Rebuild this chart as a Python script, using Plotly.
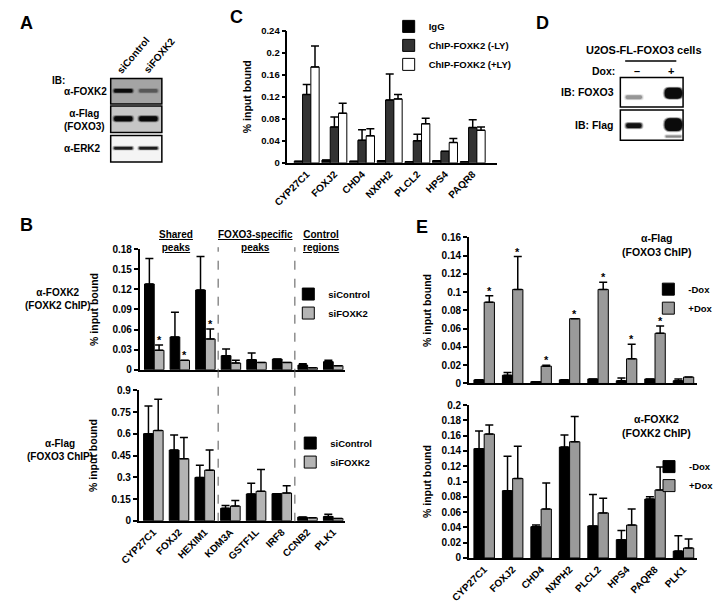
import plotly.graph_objects as go

W, H = 719, 614
def fx(p): return p / W
def fy(p): return 1 - p / H

FAM = "Liberation Sans, Arial, sans-serif"
def F(size, color="black"):
    return dict(family=FAM, size=size, color=color, weight="bold")

# ---------------- data ----------------
# Panel C
c_genes = ["CYP27C1", "FOXJ2", "CHD4", "NXPH2", "PLCL2", "HPS4", "PAQR8"]
c_igg = [0.003, 0.005, 0.003, 0.004, 0.002, 0.004, 0.002]
c_igg_err = [0, 0, 0, 0, 0, 0, 0]
c_neg = [0.124, 0.065, 0.041, 0.114, 0.040, 0.021, 0.064]
c_neg_err = [0.018, 0.018, 0.019, 0.047, 0.012, 0.0, 0.014]
c_pos = [0.174, 0.090, 0.049, 0.116, 0.071, 0.037, 0.059]
c_pos_err = [0.038, 0.018, 0.013, 0.008, 0.010, 0.007, 0.006]

# Panel B
b_genes = ["CYP27C1", "FOXJ2", "HEXIM1", "KDM3A", "GSTF1L", "IRF8", "CCNB2", "PLK1"]
bt_ctrl = [0.128, 0.049, 0.119, 0.021, 0.015, 0.016, 0.007, 0.012]
bt_ctrl_err = [0.038, 0.037, 0.050, 0.010, 0.010, 0.0, 0.002, 0.002]
bt_si = [0.029, 0.014, 0.046, 0.010, 0.011, 0.011, 0.003, 0.006]
bt_si_err = [0.008, 0.0, 0.015, 0.004, 0.0, 0.0, 0.0, 0.0]
bt_star = [1, 1, 1, 0, 0, 0, 0, 0]
bb_ctrl = [0.601, 0.488, 0.299, 0.086, 0.185, 0.187, 0.025, 0.029]
bb_ctrl_err = [0.191, 0.104, 0.084, 0.020, 0.074, 0.0, 0.0, 0.016]
bb_si = [0.623, 0.428, 0.349, 0.101, 0.203, 0.191, 0.020, 0.016]
bb_si_err = [0.216, 0.146, 0.139, 0.039, 0.150, 0.050, 0.0, 0.0]

# Panel E
e_genes = ["CYP27C1", "FOXJ2", "CHD4", "NXPH2", "PLCL2", "HPS4", "PAQR8", "PLK1"]
et_minus = [0.004, 0.009, 0.002, 0.004, 0.005, 0.003, 0.005, 0.003]
et_minus_err = [0.0, 0.003, 0.0, 0.0, 0.0, 0.003, 0.0, 0.002]
et_plus = [0.089, 0.103, 0.019, 0.071, 0.103, 0.027, 0.055, 0.007]
et_plus_err = [0.007, 0.036, 0.001, 0.0, 0.008, 0.016, 0.008, 0.0]
et_star = [1, 1, 1, 1, 1, 1, 1, 0]
eb_minus = [0.143, 0.088, 0.041, 0.145, 0.042, 0.024, 0.077, 0.009]
eb_minus_err = [0.023, 0.045, 0.002, 0.016, 0.041, 0.012, 0.003, 0.020]
eb_plus = [0.162, 0.104, 0.064, 0.152, 0.059, 0.043, 0.089, 0.013]
eb_plus_err = [0.012, 0.042, 0.034, 0.033, 0.019, 0.021, 0.030, 0.012]

# Blots (band intensities, lanes left->right)
a_rows = ["α-FOXK2", "α-Flag<br>(FOXO3)", "α-ERK2"]
a_lanes = ["siControl", "siFOXK2"]
a_band = [[0.95, 0.35], [1.0, 1.0], [0.85, 0.85]]
d_rows = ["IB: FOXO3", "IB: Flag"]
d_lanes = ["–", "+"]
d_band = [[0.3, 1.0], [0.95, 1.0]]

# ---------------- figure ----------------
fig = go.Figure()

def add_bar(x, y, err, w, off, color, name, xa, ya, leg, lw=1):
    n = len(y)
    fig.add_trace(go.Bar(
        x=x, y=y, width=w, offset=off, name=name,
        marker=dict(color=color, line=dict(color="black", width=lw)),
        error_y=dict(type="data", symmetric=False, array=err, arrayminus=[0] * n,
                     color="black", thickness=1.5, width=4),
        xaxis=xa, yaxis=ya, legend=leg, hoverinfo="skip"))

# C
wc = 0.3
xc = list(range(len(c_genes)))
add_bar(xc, c_igg, c_igg_err, wc, -1.5 * wc, "black", "IgG", "x", "y", "legend")
add_bar(xc, c_neg, c_neg_err, wc, -0.5 * wc, "#333333", "ChIP-FOXK2 (-LY)", "x", "y", "legend")
add_bar(xc, c_pos, c_pos_err, wc, 0.5 * wc, "white", "ChIP-FOXK2 (+LY)", "x", "y", "legend")

# B
wb = 0.38
xb = list(range(len(b_genes)))
GB = "#b4b4b4"
add_bar(xb, bt_ctrl, bt_ctrl_err, wb, -wb, "black", "siControl", "x2", "y2", "legend2")
add_bar(xb, bt_si, bt_si_err, wb, 0, GB, "siFOXK2", "x2", "y2", "legend2")
add_bar(xb, bb_ctrl, bb_ctrl_err, wb, -wb, "black", "siControl", "x3", "y3", "legend3")
add_bar(xb, bb_si, bb_si_err, wb, 0, GB, "siFOXK2", "x3", "y3", "legend3")

# E
we = 0.36
xe = list(range(len(e_genes)))
GE = "#9a9a9a"
add_bar(xe, et_minus, et_minus_err, we, -we, "black", "-Dox", "x4", "y4", "legend4")
add_bar(xe, et_plus, et_plus_err, we, 0, GE, "+Dox", "x4", "y4", "legend4")
add_bar(xe, eb_minus, eb_minus_err, we, -we, "black", "-Dox", "x5", "y5", "legend5")
add_bar(xe, eb_plus, eb_plus_err, we, 0, GE, "+Dox", "x5", "y5", "legend5")

def yaxis(top, bot, rng, dtick, anchor, standoff, tsize=9.5):
    return dict(domain=[fy(bot), fy(top)], range=rng, dtick=dtick, anchor=anchor,
                showline=True, linecolor="black", linewidth=1.5,
                ticks="outside", ticklen=4, tickwidth=1.5, tickcolor="black",
                showgrid=False, zeroline=False, tickfont=F(tsize),
                title=dict(text="% input bound", font=F(10.5), standoff=standoff),
                fixedrange=True)

def xaxis(left, right, rng, genes, anchor, labels=True):
    return dict(domain=[fx(left), fx(right)], range=rng, anchor=anchor,
                showline=True, linecolor="black", linewidth=1.5,
                ticks="", showgrid=False, zeroline=False,
                tickvals=list(range(len(genes))), ticktext=genes,
                showticklabels=labels, tickangle=-45, tickfont=F(10),
                fixedrange=True)

lay = dict(
    width=W, height=H, margin=dict(l=0, r=0, t=0, b=0),
    paper_bgcolor="white", plot_bgcolor="white",
    font=F(10), showlegend=True,
    xaxis=xaxis(278, 495, [-0.7, 6.87], c_genes, "y"),
    yaxis=yaxis(25, 160, [0, 0.24], 0.04, "x", 8),
    xaxis2=xaxis(125, 338, [-0.57, 7.47], b_genes, "y2", labels=False),
    yaxis2=yaxis(248, 371, [0, 0.18], 0.03, "x2", 12, 10),
    xaxis3=xaxis(124, 338, [-0.57, 7.47], b_genes, "y3"),
    yaxis3=yaxis(392, 525, [0, 0.9], 0.15, "x3", 12, 10),
    xaxis4=xaxis(466, 702, [-0.54, 7.46], e_genes, "y4", labels=False),
    yaxis4=yaxis(236, 385, [0, 0.16], 0.02, "x4", 8, 10),
    xaxis5=xaxis(466, 702, [-0.54, 7.46], e_genes, "y5"),
    yaxis5=yaxis(407, 563, [0, 0.2], 0.02, "x5", 8, 10),
)

def legend(left, top):
    return dict(x=fx(left), y=fy(top), xanchor="left", yanchor="top",
                bgcolor="rgba(0,0,0,0)", font=F(9.5), itemwidth=30,
                tracegroupgap=0, itemclick=False, itemdoubleclick=False)

lay["legend"] = legend(383, 6)
lay["legend2"] = legend(279, 279)
lay["legend3"] = legend(281, 431)
lay["legend4"] = legend(652, 274)
lay["legend5"] = legend(653, 455)
fig.update_layout(**lay)

ann = []
def text(x, y, t, size=10, xanchor="center", yanchor="middle", angle=0):
    ann.append(dict(x=fx(x), y=fy(y), xref="paper", yref="paper", text=t,
                    showarrow=False, font=F(size), xanchor=xanchor,
                    yanchor=yanchor, textangle=angle, align="center"))

# panel letters
text(8, 17, "A", 18)
text(225, 11, "C", 18)
text(542, 17, "D", 18)
text(8, 223, "B", 18)
text(417, 225, "E", 18)

# row labels
text(40, 299, "α-FOXK2<br>(FOXK2 ChIP)", 10)
text(42, 453, "α-Flag<br>(FOXO3 ChIP)", 10)
text(660, 244, "α-Flag<br>(FOXO3 ChIP)", 10.5)
text(660, 428, "α-FOXK2<br>(FOXK2 ChIP)", 10.5)

# B headers
text(163, 240, "<u>Shared</u><br><u>peaks</u>", 10)
text(245, 240, "<u>FOXO3-specific</u><br><u>peaks</u>", 10)
text(313, 240, "<u>Control</u><br><u>regions</u>", 10)

# stars
def stars(vals, errs, flags, w, xa, ya):
    for i, (v, e, s) in enumerate(zip(vals, errs, flags)):
        if s:
            ann.append(dict(x=i + w / 2, y=v + e, xref=xa, yref=ya, text="*",
                            showarrow=False, font=F(11), xanchor="center",
                            yanchor="bottom", yshift=-3))
stars(bt_si, bt_si_err, bt_star, wb, "x2", "y2")
stars(et_plus, et_plus_err, et_star, we, "x4", "y4")

shapes = []

def rrect(x0, y0, x1, y1, r):
    r = min(r, (x1 - x0) / 2, (y1 - y0) / 2)
    P = lambda x, y: f"{fx(x):.5f},{fy(y):.5f}"
    return (f"M{P(x0 + r, y0)} L{P(x1 - r, y0)} Q{P(x1, y0)} {P(x1, y0 + r)} "
            f"L{P(x1, y1 - r)} Q{P(x1, y1)} {P(x1 - r, y1)} L{P(x0 + r, y1)} "
            f"Q{P(x0, y1)} {P(x0, y1 - r)} L{P(x0, y0 + r)} Q{P(x0, y0)} {P(x0 + r, y0)} Z")

def band(cx, cy, bw, bh, inten):
    for grow, op in [(2.0, 0.22), (1.0, 0.45), (0.0, 0.9)]:
        x0, x1 = cx - bw / 2 - grow, cx + bw / 2 + grow
        y0, y1 = cy - bh / 2 - grow * 0.6, cy + bh / 2 + grow * 0.6
        shapes.append(dict(type="path", xref="paper", yref="paper",
                           path=rrect(x0, y0, x1, y1, (y1 - y0) / 2.2),
                           fillcolor="black", opacity=op * inten,
                           line=dict(width=0), layer="above"))

# Panel A blot
a_box_y = [(74, 100), (102, 129), (132, 159)]
a_box_bg = ["#a4a4a4", "#c6c6c6", "#f4f4f4"]
a_lane_x = [108, 134]
a_band_h = [3.5, 5, 2.5]
a_row_label_y = [87, 116, 145]
for r, (y0, y1) in enumerate(a_box_y):
    shapes.append(dict(type="rect", xref="paper", yref="paper",
                       x0=fx(95), x1=fx(148), y0=fy(y1), y1=fy(y0),
                       fillcolor=a_box_bg[r], line=dict(color="black", width=1.5),
                       layer="above"))
    for l, cx in enumerate(a_lane_x):
        band(cx, (y0 + y1) / 2 - 0.5, 19, a_band_h[r], a_band[r][l])
    text(45, a_row_label_y[r], a_rows[r], 10, xanchor="left")
text(32, 76, "IB:", 10, xanchor="left")
text(118, 50, a_lanes[0], 10, angle=-50)
text(145, 50, a_lanes[1], 10, angle=-50)

# Panel D blot
d_box_y = [(73, 103), (106, 137)]
d_lane_x = [637, 678]
d_band_w = [[17, 18], [16, 18]]
d_band_h = [[4, 11], [5, 13]]
d_band_cy = [[93, 89], [122, 121]]
for r, (y0, y1) in enumerate(d_box_y):
    shapes.append(dict(type="rect", xref="paper", yref="paper",
                       x0=fx(623), x1=fx(688), y0=fy(y1), y1=fy(y0),
                       fillcolor="white", line=dict(color="black", width=1.5),
                       layer="below"))
    for l, cx in enumerate(d_lane_x):
        band(cx, d_band_cy[r][l], d_band_w[r][l], d_band_h[r][l], d_band[r][l])
    text(618, (y0 + y1) / 2, d_rows[r], 10.5, xanchor="right")
band(678, 133, 16, 2, 0.35)
text(648, 45, "U2OS-FL-FOXO3 cells", 11)
shapes.append(dict(type="line", xref="paper", yref="paper", x0=fx(628), x1=fx(681),
                   y0=fy(56), y1=fy(56), line=dict(color="black", width=1.5)))
text(620, 66, "Dox:", 10.5, xanchor="right")
text(640, 66, d_lanes[0], 11)
text(676, 66, d_lanes[1], 11)

# dashed separators in B
for xv in [2.5, 5.5]:
    shapes.append(dict(type="line", xref="x2", yref="paper", x0=xv, x1=xv,
                       y0=fy(526), y1=fy(246),
                       line=dict(color="#555555", width=1, dash="dash")))

fig.update_layout(annotations=ann, shapes=shapes)

fig.write_html("out.html", config={"displayModeBar": False},
               post_script="document.body.style.margin='0';")
